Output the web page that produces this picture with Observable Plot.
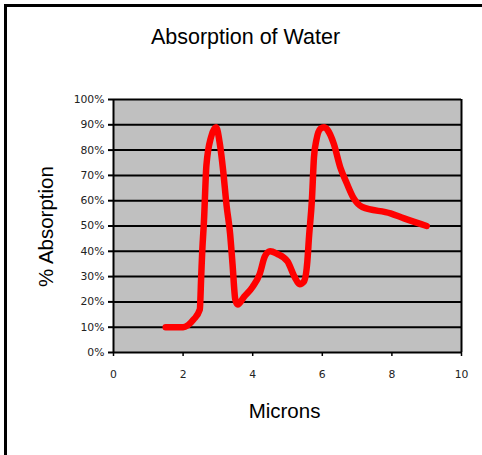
<!DOCTYPE html>
<html>
<head>
<meta charset="utf-8">
<script src="https://cdn.jsdelivr.net/npm/d3@7"></script>
<script src="https://cdn.jsdelivr.net/npm/@observablehq/plot@0.6"></script>
<style>
  html, body { margin: 0; padding: 0; background: #fff; overflow: hidden; }
  #wrap { position: relative; width: 482px; height: 455px; }
  #border { position: absolute; left: 4px; top: 4px; width: 700px; height: 700px;
            border-left: 3px solid #000; border-top: 3px solid #000; }
  #chart { position: absolute; left: 0; top: 0; }
</style>
</head>
<body>
<div id="wrap"><div id="border"></div><div id="chart"></div></div>
<script>
const titleText = "Absorption of Water";
const xLabel = "Microns";
const yLabel = "% Absorption";
const xTicks = [0, 2, 4, 6, 8, 10];
const yTicks = [0, 10, 20, 30, 40, 50, 60, 70, 80, 90, 100];
const microns = [1.5, 2.0, 2.3, 2.48, 2.52, 2.55, 2.6, 2.67, 2.8, 2.95, 3.05, 3.15, 3.25, 3.35, 3.42, 3.5, 3.57, 3.75, 4.0, 4.2, 4.35, 4.5, 4.7, 5.0, 5.2, 5.35, 5.47, 5.57, 5.62, 5.7, 5.76, 5.83, 5.95, 6.05, 6.15, 6.33, 6.52, 6.7, 6.9, 7.15, 7.96, 8.35, 9.0];
const absorption = [10, 10, 13, 17, 30, 40, 52, 74, 85, 89, 83, 72, 58, 47, 35, 21, 19, 22, 26, 31, 38, 40, 39, 36, 30, 27, 28, 36, 46, 60, 77, 84, 88.5, 89, 88, 82.5, 73, 67, 61, 57.5, 55, 53, 50];

const data = microns.map((m, i) => ({x: m, y: absorption[i]}));

const chart = Plot.plot({
  width: 482,
  height: 455,
  marginLeft: 113,
  marginRight: 21,
  marginTop: 99,
  marginBottom: 103,
  style: {background: "transparent", overflow: "visible"},
  x: {domain: [0, 10]},
  y: {domain: [0, 100]},
  marks: [
    Plot.frame({fill: "#c0c0c0", stroke: null}),
    Plot.ruleY(yTicks, {stroke: "#000", strokeWidth: 2}),
    Plot.ruleX([0, 10], {stroke: "#000", strokeWidth: 2}),
    Plot.axisY({ticks: yTicks, tickSize: 5, tickPadding: 4, tickFormat: d => d + "%",
      stroke: "#000", strokeWidth: 2, fill: "#222", fontSize: 10.8,
      fontFamily: "DejaVu Sans", label: null}),
    Plot.axisX({ticks: xTicks, tickSize: 4, tickPadding: 14, tickFormat: d => String(d),
      stroke: "#000", strokeWidth: 1.5, fill: "#222", fontSize: 10.8,
      fontFamily: "DejaVu Sans", label: null}),
    Plot.line(data, {x: "x", y: "y", stroke: "#ff0000", strokeWidth: 6.5,
      curve: "monotone-x", strokeLinejoin: "round", strokeLinecap: "round"}),
    Plot.text([titleText], {frameAnchor: "top", dx: -42, dy: -56, lineAnchor: "bottom",
      fontSize: 21.5, fontFamily: "Liberation Sans, Arial, sans-serif", fill: "#000"}),
    Plot.text([xLabel], {frameAnchor: "bottom", dx: -3, dy: 65, lineAnchor: "bottom",
      fontSize: 20.5, fontFamily: "Liberation Sans, Arial, sans-serif", fill: "#000"}),
    Plot.text([yLabel], {frameAnchor: "left", dx: -67, dy: 0.5, rotate: -90, textAnchor: "middle", lineAnchor: "middle",
      fontSize: 20.5, fontFamily: "Liberation Sans, Arial, sans-serif", fill: "#000"})
  ]
});
document.getElementById("chart").appendChild(chart);
</script>
</body>
</html>
